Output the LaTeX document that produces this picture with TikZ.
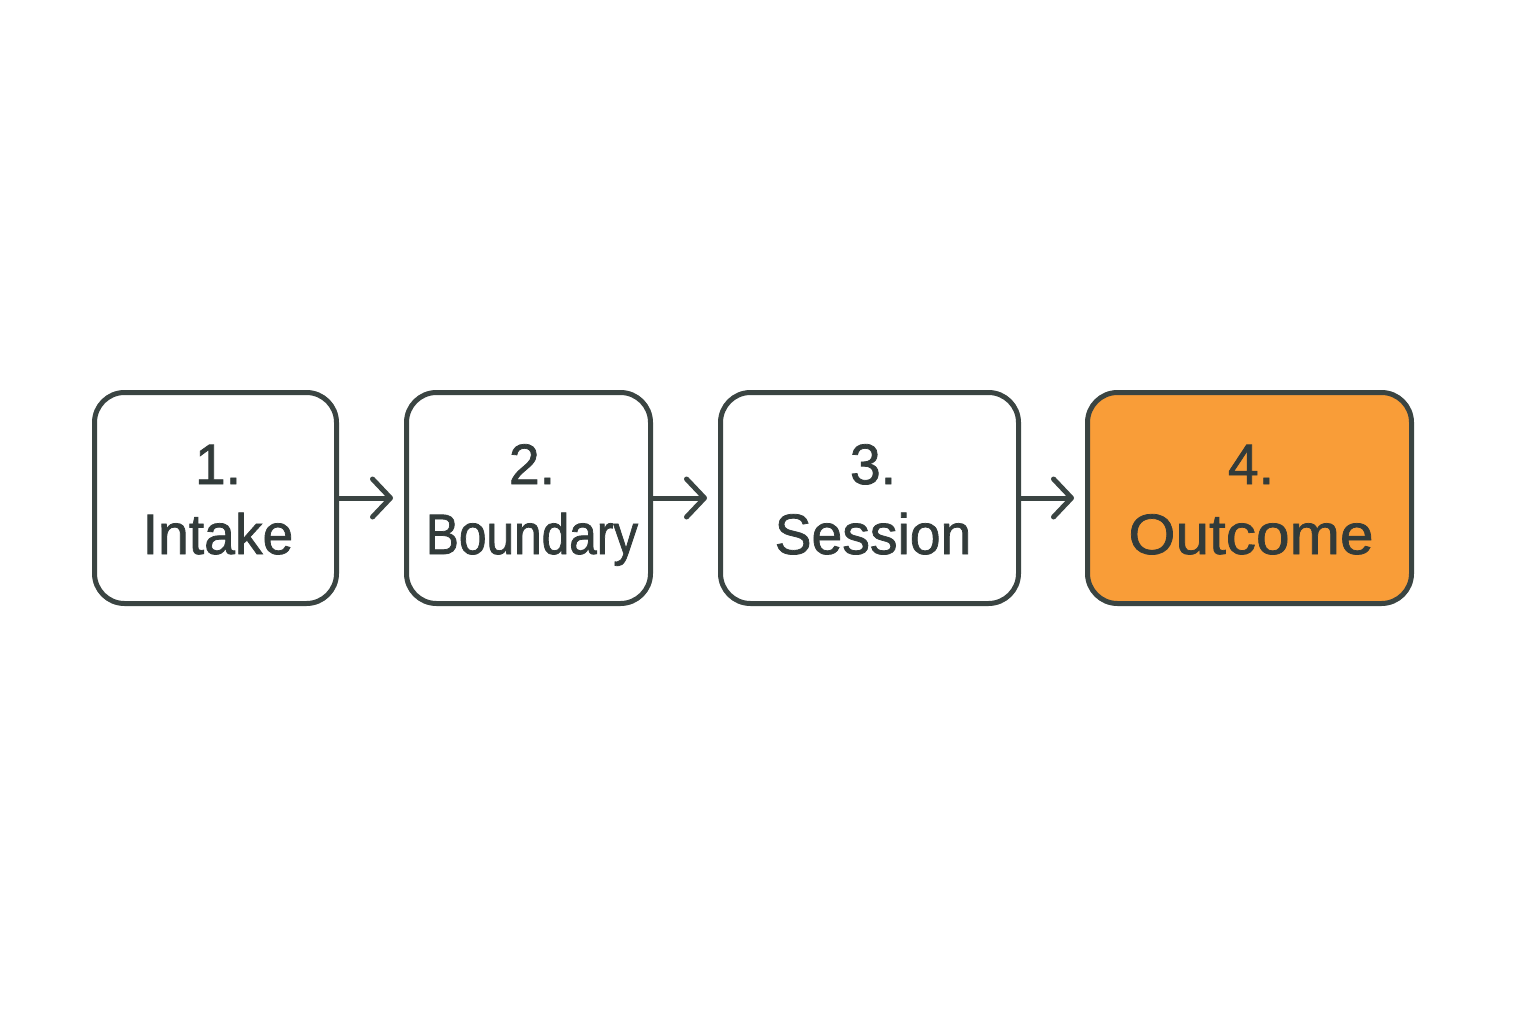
\documentclass[tikz,border=0pt]{standalone}
\usepackage{fontspec}
\setmainfont[FakeStretch=0.97,FakeBold=1.3]{Liberation Sans}
\newfontfamily\narrowfont[FakeStretch=0.87,FakeBold=1.3]{Liberation Sans}
\newfontfamily\widefont[FakeStretch=1.06,FakeBold=1.3]{Liberation Sans}
\usetikzlibrary{arrows.meta}
\definecolor{ink}{HTML}{3A4442}
\definecolor{txt}{HTML}{323B3A}
\definecolor{orangefill}{HTML}{F99D38}
\begin{document}
\begin{tikzpicture}[x=1pt,y=-1pt,
  stage/.style={draw=ink, line width=5pt, rounded corners=30pt, fill=white, inner sep=0pt, minimum height=211pt},
  lbl/.style={text=txt, font=\fontsize{57}{60}\selectfont, inner sep=0pt, anchor=base},
  flow/.style={draw=ink, line width=5pt, -{Straight Barb[length=18pt,width=38pt,round]}, shorten >=11pt}]
\useasboundingbox (0,0) rectangle (1536,1024);
\node[stage, minimum width=242pt] (b1) at (215.5,498) {};
\node[stage, minimum width=244pt] (b2) at (528.5,498) {};
\node[stage, minimum width=298pt] (b3) at (869.5,498) {};
\node[stage, minimum width=324pt, fill=orangefill] (b4) at (1249.5,498) {};
\node[lbl] (t1a) at (218,484) {1.};
\node[lbl] (t1b) at (218,554) {Intake};
\node[lbl] (t2a) at (532,484) {2.};
\node[lbl] (t2b) at (532,554) {\narrowfont Boundary};
\node[lbl] (t3a) at (873,484) {3.};
\node[lbl] (t3b) at (873,554) {Session};
\node[lbl] (t4a) at (1251,484) {4.};
\node[lbl] (t4b) at (1251,554) {\widefont Outcome};
\draw[flow] (b1.east) -- (b2.west);
\draw[flow] (b2.east) -- (b3.west);
\draw[flow] (b3.east) -- (b4.west);
\end{tikzpicture}
\end{document}
